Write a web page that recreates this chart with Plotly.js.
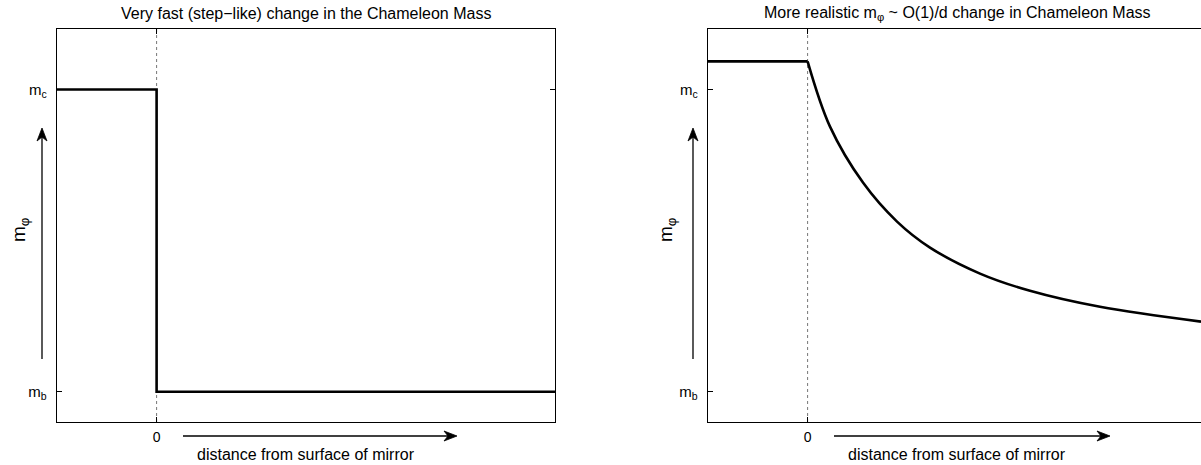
<!DOCTYPE html>
<html>
<head>
<meta charset="utf-8">
<script src="https://cdn.plot.ly/plotly-3.0.1.min.js"></script>
<style>
html,body{margin:0;padding:0;background:#fff;overflow:hidden;}
#chart{width:1201px;height:465px;}
</style>
</head>
<body>
<div id="chart"></div>
<script>
// ---- data ----
const stepX = [-1, 0, 0, 4];
const stepY = [2, 2, 1, 1];

const plateauX = [-1, 0];
const plateauY = [2.093, 2.093];

const curveX = [0, 0.225, 0.556, 0.898, 1.229, 1.731, 2.233, 2.936, 3.95];
const curveY = [2.093, 1.877, 1.692, 1.563, 1.477, 1.391, 1.334, 1.281, 1.232];

const yTickVals = [1, 2];
const yTickText = ['m<sub>b</sub>', 'm<sub>c</sub>'];
const xTickVals = [0];
const xTickText = ['0'];

const titleLeft = 'Very fast (step\u2212like) change in the Chameleon Mass';
const titleRight = 'More realistic m<sub>\u03c6</sub> ~ O(1)/d change in Chameleon Mass';
const xLabel = 'distance from surface of mirror';
const yLabel = 'm<sub>\u03c6</sub>';

// ---- layout ----
const W = 1201, H = 465;
const FONT = 'Liberation Sans, Arial, Helvetica, sans-serif';
const lineStyle = {color: '#000', width: 2.6};

const traces = [
  {x: stepX, y: stepY, xaxis: 'x', yaxis: 'y', mode: 'lines', line: lineStyle, hoverinfo: 'skip'},
  {x: plateauX, y: plateauY, xaxis: 'x2', yaxis: 'y2', mode: 'lines', line: lineStyle, hoverinfo: 'skip'},
  {x: curveX, y: curveY, xaxis: 'x2', yaxis: 'y2', mode: 'lines',
   line: Object.assign({shape: 'spline', smoothing: 1}, lineStyle), hoverinfo: 'skip'}
];

const dL = [57 / W, 555 / W];
const dR = [708 / W, 1];

function xax(domain, range, anchor, mirror) {
  return {
    domain: domain, range: range, anchor: anchor,
    showgrid: false, zeroline: false,
    showline: true, linecolor: '#000', linewidth: 1.3, mirror: mirror,
    ticks: 'inside', ticklen: 5, tickwidth: 1, tickcolor: '#000',
    tickvals: xTickVals, ticktext: xTickText,
    tickfont: {family: FONT, size: 14, color: '#000'},
    ticklabelstandoff: 2,
    fixedrange: true
  };
}
function yax(anchor, mirror) {
  return {
    domain: [0, 1], range: [0.9, 2.2], anchor: anchor,
    showgrid: false, zeroline: false,
    showline: true, linecolor: '#000', linewidth: 1.3, mirror: mirror,
    ticks: 'inside', ticklen: 5, tickwidth: 1, tickcolor: '#000',
    tickvals: yTickVals, ticktext: yTickText,
    tickfont: {family: FONT, size: 15, color: '#000'},
    ticklabelstandoff: 6,
    fixedrange: true
  };
}

const plotTop = 29, plotBot = 422, plotH = plotBot - plotTop;
const px = p => p / W;                  // pixel column -> paper x
const py = p => (plotBot - p) / plotH;  // pixel row -> paper y

function txt(x, y, text, size, extra) {
  return Object.assign({xref: 'paper', yref: 'paper', x: x, y: y, text: text,
    showarrow: false, xanchor: 'center', yanchor: 'middle',
    font: {family: FONT, size: size, color: '#000'}}, extra || {});
}

const annotations = [
  txt((dL[0] + dL[1]) / 2, py(13), titleLeft, 16),
  txt((708 + 1206) / 2 / W, py(13), titleRight, 16),
  txt((dL[0] + dL[1]) / 2, py(454), xLabel, 16),
  txt((708 + 1206) / 2 / W, py(454), xLabel, 16),
  txt(20 / W, py(230), yLabel, 19, {textangle: -90}),
  txt(667 / W, py(230), yLabel, 19, {textangle: -90})
];

// arrows drawn as shapes (shaft + barbed head), positioned in pixel space
function arrowRight(x0, x1, y) {
  const shaft = {type: 'line', xref: 'paper', yref: 'paper',
    x0: px(x0), x1: px(x1 - 6), y0: py(y), y1: py(y),
    line: {color: '#000', width: 1.3}};
  const head = {type: 'path', xref: 'paper', yref: 'paper',
    path: 'M' + px(x1) + ',' + py(y) +
          ' L' + px(x1 - 13) + ',' + py(y - 5) +
          ' L' + px(x1 - 9) + ',' + py(y) +
          ' L' + px(x1 - 13) + ',' + py(y + 5) + ' Z',
    fillcolor: '#000', line: {color: '#000', width: 0.8}};
  return [shaft, head];
}
function arrowUp(x, y0, y1) {
  const shaft = {type: 'line', xref: 'paper', yref: 'paper',
    x0: px(x), x1: px(x), y0: py(y0), y1: py(y1 + 6),
    line: {color: '#000', width: 1.3}};
  const head = {type: 'path', xref: 'paper', yref: 'paper',
    path: 'M' + px(x) + ',' + py(y1) +
          ' L' + px(x - 5) + ',' + py(y1 + 13) +
          ' L' + px(x) + ',' + py(y1 + 9) +
          ' L' + px(x + 5) + ',' + py(y1 + 13) + ' Z',
    fillcolor: '#000', line: {color: '#000', width: 0.8}};
  return [shaft, head];
}

const shapes = [
  {type: 'line', xref: 'x', yref: 'paper', x0: 0, x1: 0, y0: 0, y1: 1,
   line: {color: '#777', width: 1, dash: 'dot'}, layer: 'below'},
  {type: 'line', xref: 'x2', yref: 'paper', x0: 0, x1: 0, y0: 0, y1: 1,
   line: {color: '#777', width: 1, dash: 'dot'}, layer: 'below'}
].concat(arrowRight(183, 457, 436), arrowRight(834, 1110, 436),
         arrowUp(42, 359, 128), arrowUp(693, 359, 128));

const layout = {
  width: W, height: H,
  margin: {l: 0, r: 0, t: plotTop, b: H - plotBot, pad: 0},
  paper_bgcolor: '#fff', plot_bgcolor: '#fff',
  showlegend: false,
  font: {family: FONT, color: '#000'},
  xaxis: xax(dL, [-1, 4], 'y', 'ticks'),
  yaxis: yax('x', 'ticks'),
  xaxis2: xax(dR, [-1, 3.95], 'y2', 'ticks'),
  yaxis2: yax('x2', false),
  annotations: annotations,
  shapes: shapes
};

Plotly.newPlot('chart', traces, layout, {staticPlot: true, displayModeBar: false});
</script>
</body>
</html>
